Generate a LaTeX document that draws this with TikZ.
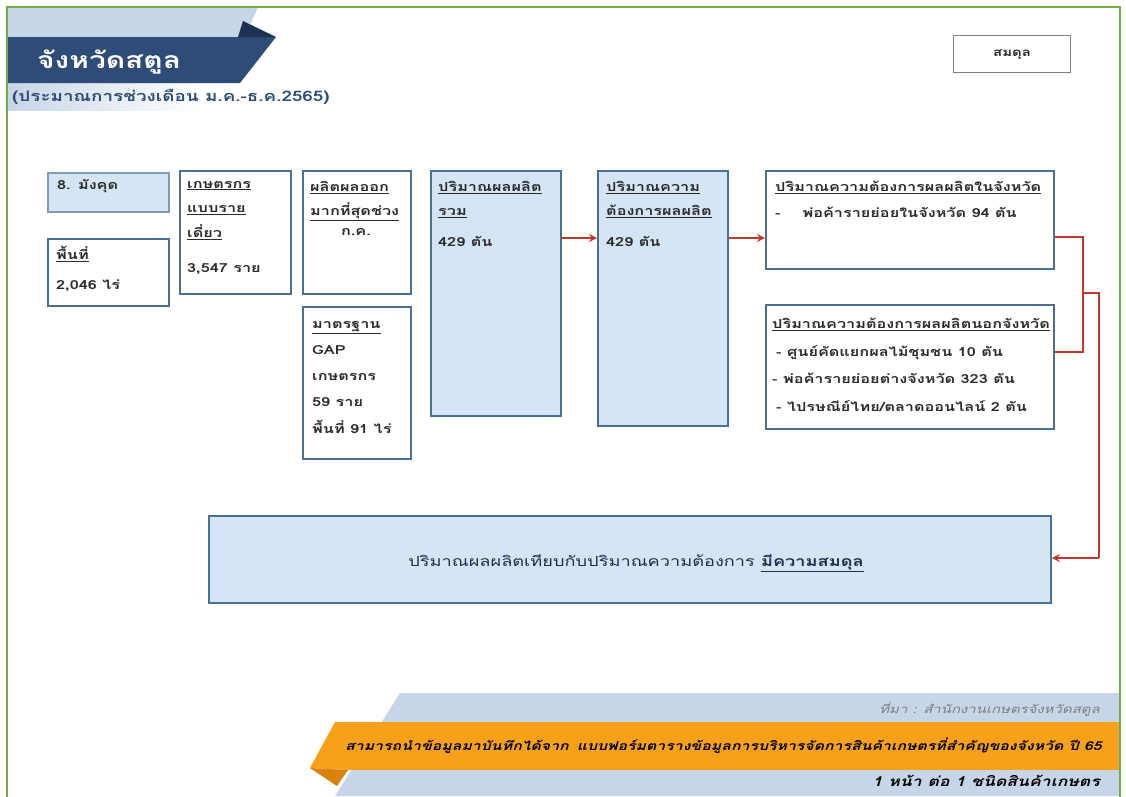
\documentclass[tikz,border=0pt]{standalone}
\usepackage{fontspec}
\newfontfamily\thai[Script=Thai]{Loma}
\newfontfamily\thaiw[Script=Thai,FakeStretch=1.3]{Loma}
\usetikzlibrary{arrows.meta}
\definecolor{frame}{HTML}{70AD47}
\definecolor{navy}{HTML}{2F4B78}
\definecolor{navyd}{HTML}{1E3050}
\definecolor{hdrlight}{HTML}{C7D5E8}
\definecolor{boxblue}{HTML}{4A7194}
\definecolor{boxfill}{HTML}{D5E5F5}
\definecolor{arr}{HTML}{C0392B}
\definecolor{orng}{HTML}{F7A11A}
\definecolor{orngd}{HTML}{D9830F}
\definecolor{txt}{HTML}{2B2B2B}
\tikzset{
  box/.style={draw=boxblue, line width=1.8pt, fill=white, anchor=north west, inner sep=0pt},
  fbox/.style={box, fill=boxfill},
  tx/.style={anchor=north west, inner sep=0pt, text=txt, align=left,
    font=\thaiw\bfseries\fontsize{12.5}{24.5}\selectfont},
  conn/.style={draw=arr, line width=1.2pt},
  arrow/.style={conn, -{Stealth[length=8pt,width=8pt]}},
}
\begin{document}
\begin{tikzpicture}[x=1pt,y=-1pt]
\useasboundingbox (0,0) rectangle (1126,796);
\fill[white] (0,0) rectangle (1126,796);
% header
\shade[left color=hdrlight, right color=white] (7,83) rectangle (200,110);
\fill[hdrlight] (7,7) -- (258,7) -- (225,83) -- (7,83) -- cycle;
\fill[navy] (7,37) -- (276,37) -- (240,83) -- (7,83) -- cycle;
\fill[navyd] (243,21) -- (276,37) -- (238,37) -- cycle;
\node[anchor=west, inner sep=0pt, text=white, font=\thaiw\bfseries\fontsize{23}{28}\selectfont] (title) at (37,62) {จังหวัดสตูล};
\node[anchor=west, inner sep=0pt, text=navy, font=\thaiw\bfseries\fontsize{14.5}{16}\selectfont] (sub) at (12,97) {(ประมาณการช่วงเดือน ม.ค.-ธ.ค.2565)};
% top right box
\node[draw=gray, line width=1.2pt, minimum width=117pt, minimum height=37pt, anchor=north west, inner sep=0pt, font=\thaiw\bfseries\fontsize{11.5}{13}\selectfont, text=txt] (sm) at (953,35) {สมดุล};
% boxes
\node[fbox, draw=boxblue!70, minimum width=121pt, minimum height=39pt] (b1) at (47,172) {};
\node[tx, anchor=west] (t1) at (57,186) {8. มังคุด};
\node[box, minimum width=121pt, minimum height=67pt] (b2) at (47,238) {};
\node[tx, font=\thaiw\bfseries\fontsize{12.5}{30}\selectfont] (t2) at (56,246) {\underline{พื้นที่}\\2,046 ไร่};
\node[box, minimum width=111pt, minimum height=123pt] (b3) at (179,170) {};
\node[tx] (t3) at (187,181) {\underline{เกษตรกร}\\\underline{แบบราย}\\\underline{เดี่ยว}\\[11pt]3,547 ราย};
\node[box, minimum width=108pt, minimum height=123pt] (b4) at (302,170) {};
\node[tx] (t4) at (310,181) {\underline{ผลิตผลออก}\\\underline{มากที่สุดช่วง}};
\node[tx, anchor=north] (t4b) at (356,228) {ก.ค.};
\node[box, minimum width=108pt, minimum height=152pt] (b5) at (302,306) {};
\node[tx, font=\thaiw\bfseries\fontsize{12.5}{26.2}\selectfont] (t5) at (312,321) {\underline{มาตรฐาน}\\GAP\\เกษตรกร\\59 ราย\\พื้นที่ 91 ไร่};
\node[fbox, minimum width=130pt, minimum height=245pt] (b6) at (430,170) {};
\node[tx] (t6) at (438,181) {\underline{ปริมาณผลผลิต}\\\underline{รวม}\\[6pt]429 ตัน};
\node[fbox, minimum width=130pt, minimum height=255pt] (b7) at (597,170) {};
\node[tx] (t7) at (606,181) {\underline{ปริมาณความ}\\\underline{ต้องการผลผลิต}\\[6pt]429 ตัน};
\node[box, minimum width=288pt, minimum height=98pt] (b8) at (765,170) {};
\node[tx, font=\thaiw\bfseries\fontsize{12.5}{26}\selectfont] (t8) at (775,181) {\underline{ปริมาณความต้องการผลผลิตในจังหวัด}\\-\hspace{22pt}พ่อค้ารายย่อยในจังหวัด 94 ตัน};
\node[box, minimum width=288pt, minimum height=124pt] (b9) at (765,304) {};
\node[tx, font=\thaiw\bfseries\fontsize{12.5}{27.5}\selectfont] (t9) at (772,318) {\underline{ปริมาณความต้องการผลผลิตนอกจังหวัด}\\\hspace{4pt}- ศูนย์คัดแยกผลไม้ชุมชน 10 ตัน\\- พ่อค้ารายย่อยต่างจังหวัด 323 ตัน\\\hspace{4pt}- ไปรษณีย์ไทย/ตลาดออนไลน์ 2 ตัน};
\node[fbox, minimum width=842pt, minimum height=87pt] (b10) at (208,515) {};
\node[tx, anchor=center, font=\thaiw\fontsize{14}{16}\selectfont, text=navyd] (t10) at (636,563) {ปริมาณผลผลิตเทียบกับปริมาณความต้องการ \underline{\bfseries มีความสมดุล}};
% connectors
\draw[arrow] (b6.east |- 0,238) -- (b7.west |- 0,238);
\draw[arrow] (b7.east |- 0,238) -- (b8.west |- 0,238);
\coordinate (j1) at (1083,237);
\coordinate (j2) at (1083,352);
\coordinate (jm) at (1083,293);
\coordinate (k1) at (1099,293);
\coordinate (k2) at (1099,558);
\draw[conn] (b8.east |- j1) -- (j1) -- (j2) -- (b9.east |- j2);
\draw[conn] (jm) -- (k1) -- (k2);
\draw[arrow] (k2) -- (b10.east |- k2);
% bottom banner
\fill[hdrlight] (400,693) -- (1120,693) -- (1120,796) -- (335,796) -- cycle;
\fill[orng] (348,722) rectangle (1120,770);
\fill[orng] (335,722) -- (348,722) -- (348,770) -- (310,768) -- cycle;
\fill[orngd] (310,768) -- (348,770) -- (337,786) -- cycle;
\node[anchor=east, inner sep=0pt, text=gray, font=\thaiw\itshape\fontsize{11.5}{12}\selectfont] (src) at (1100,709) {ที่มา : สำนักงานเกษตรจังหวัดสตูล};
\node[anchor=west, inner sep=0pt, text=black, font=\thaiw\bfseries\itshape\fontsize{12.2}{14}\selectfont] (ban) at (345,746) {สามารถนำข้อมูลมาบันทึกได้จาก\hspace{8pt}แบบฟอร์มตารางข้อมูลการบริหารจัดการสินค้าเกษตรที่สำคัญของจังหวัด ปี 65};
\node[anchor=east, inner sep=0pt, text=black, font=\thaiw\bfseries\itshape\fontsize{13.5}{14}\selectfont] (pg) at (1100,781) {1 หน้า ต่อ 1 ชนิดสินค้าเกษตร};
% green frame
\draw[frame, line width=2pt] (7,800) -- (7,7) -- (1120,7) -- (1120,800);
\end{tikzpicture}
\end{document}
